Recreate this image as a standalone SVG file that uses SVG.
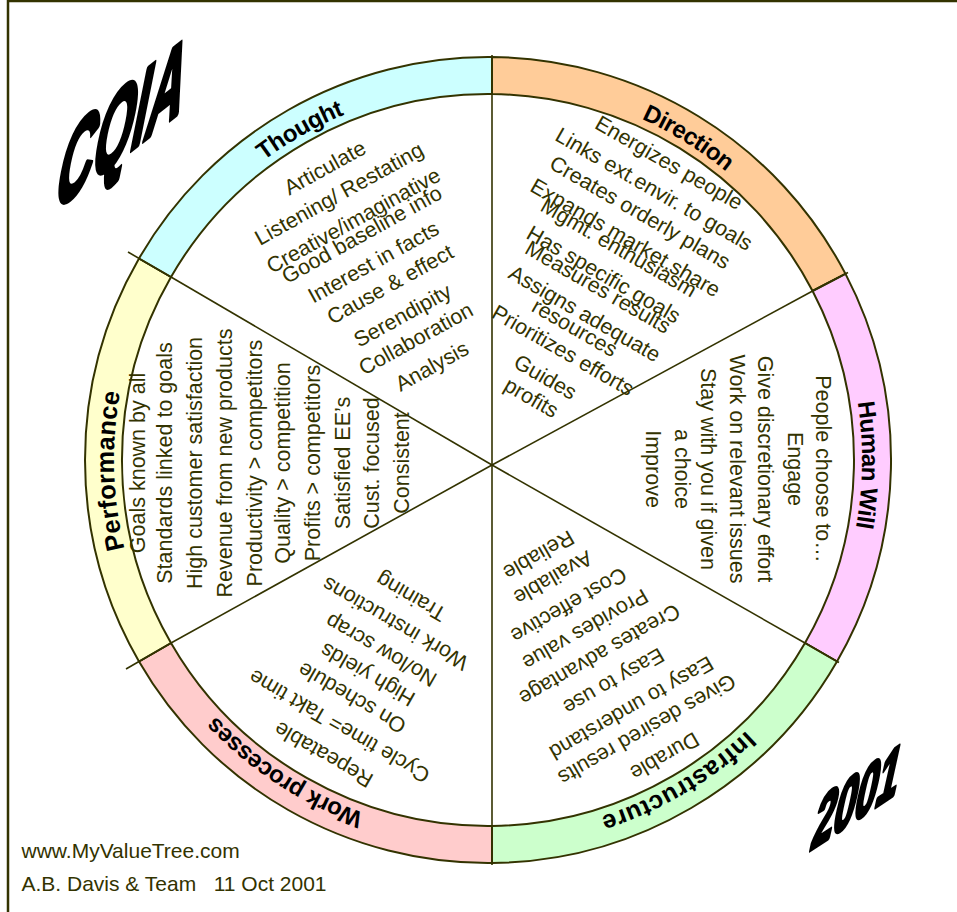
<svg xmlns="http://www.w3.org/2000/svg" width="957" height="912" viewBox="0 0 957 912">
<style>
.seg{stroke:#333300;stroke-width:2;stroke-linejoin:round}
.ln{stroke:#333300;stroke-width:1.6;fill:none}
.t{font-family:"Liberation Sans",Arial,sans-serif;font-size:21.5px;fill:#333300;text-anchor:middle}
.lbl{font-family:"Liberation Sans",Arial,sans-serif;font-size:24px;font-weight:bold;fill:#000;letter-spacing:-0.5px}
.big{font-family:"Liberation Sans",Arial,sans-serif;font-weight:bold;fill:#000;stroke:#000;stroke-linejoin:round}
.foot{font-family:"Liberation Sans",Arial,sans-serif;font-size:21px;fill:#333300;white-space:pre}
</style>
<defs>
<path id="lc" d="M488,86 A374,374 0 1 1 488,834 A374,374 0 1 1 488,86"/>
</defs>
<rect x="8" y="1" width="1000" height="1000" fill="#fff" stroke="#333300" stroke-width="2.5"/>

<g id="direction">
<path class="seg" fill="#FFCC99" d="M492,57.02 A403,403 0 0 1 845.5,273.9 L812.6,291 A366,366 0 0 0 492,94.02 Z"/>
<text class="lbl"><textPath href="#lc" startOffset="208" text-anchor="middle">Direction</textPath></text>
<text class="t" transform="translate(665.4,169) rotate(30)">Energizes people</text>
<text class="t" transform="translate(650.4,195.4) rotate(30)">Links ext.envir. to goals</text>
<text class="t" transform="translate(636.4,218.7) rotate(30)">Creates orderly plans</text>
<text class="t" transform="translate(621.8,244) rotate(30)">Expands market.share</text>
<text class="t" transform="translate(615.1,254) rotate(30)">Mgmt. enthusiasm</text>
<text class="t" transform="translate(600.1,280.7) rotate(30)">Has specific goals</text>
<text class="t" transform="translate(594.4,293.4) rotate(30)">Measures results</text>
<text class="t" transform="translate(581.1,320) rotate(30)">Assigns adequate</text>
<text class="t" transform="translate(571.1,334) rotate(30)">resources</text>
<text class="t" transform="translate(559.4,356.7) rotate(30)">Prioritizes efforts</text>
<text class="t" transform="translate(541.8,383.4) rotate(30)">Guides</text>
<text class="t" transform="translate(527.8,404) rotate(30)">profits</text>
</g>

<g id="human-will">
<path class="seg" fill="#FFCCFF" d="M845.5,273.9 A403,403 0 0 1 837,661.5 L805,643 A366,366 0 0 0 812.6,291 Z"/>
<text class="lbl"><textPath href="#lc" startOffset="592" text-anchor="middle">Human Will</textPath></text>
<g transform="translate(0,469) rotate(90)">
<text class="t" x="0" y="-816.3">People choose to…</text>
<text class="t" x="0" y="-788">Engage</text>
<text class="t" x="0" y="-758">Give discretionary effort</text>
<text class="t" x="0" y="-729.6">Work on relevant issues</text>
<text class="t" x="0" y="-701.3">Stay with you if given</text>
<text class="t" x="0" y="-674.6">a choice</text>
<text class="t" x="0" y="-646.3">Improve</text>
</g>
</g>

<g id="infrastructure">
<path class="seg" fill="#CCFFCC" d="M837,661.5 A403,403 0 0 1 492,862.98 L492,825.98 A366,366 0 0 0 805,643 Z"/>
<text class="lbl" style="font-size:25px;letter-spacing:0.6px"><textPath href="#lc" startOffset="975" text-anchor="middle">Infrastructure</textPath></text>
<text class="t" transform="translate(535.1,549) rotate(150)">Reliable</text>
<text class="t" transform="translate(549.4,571.6) rotate(150)">Available</text>
<text class="t" transform="translate(565.1,599) rotate(150)">Cost effective</text>
<text class="t" transform="translate(581.8,623.3) rotate(150)">Provides value</text>
<text class="t" transform="translate(596.1,648.3) rotate(150)">Creates advantage</text>
<text class="t" transform="translate(610.1,675) rotate(150)">Easy to use</text>
<text class="t" transform="translate(627.8,701.6) rotate(150)">Easy to understand</text>
<text class="t" transform="translate(643.4,723.3) rotate(150)">Gives desired results</text>
<text class="t" transform="translate(661.1,750) rotate(150)">Durable</text>
</g>

<g id="work-processes">
<path class="seg" fill="#FFCCCC" d="M492,862.98 A403,403 0 0 1 139,661.5 L171,643 A366,366 0 0 0 492,825.98 Z"/>
<text class="lbl"><textPath href="#lc" startOffset="1390" text-anchor="middle">Work processes</textPath></text>
<text class="t" transform="translate(414.6,590.6) rotate(-150)">Training</text>
<text class="t" transform="translate(398.9,617.3) rotate(-150)">Work instructions</text>
<text class="t" transform="translate(384.6,644) rotate(-150)">No/low scrap</text>
<text class="t" transform="translate(371.2,668.3) rotate(-150)">High yields</text>
<text class="t" transform="translate(355.6,691.6) rotate(-150)">On schedule</text>
<text class="t" transform="translate(342.9,720) rotate(-150)">Cycle time= Takt time</text>
<text class="t" transform="translate(327.2,748.3) rotate(-150)">Repeatable</text>
</g>

<g id="performance">
<path class="seg" fill="#FFFFCC" d="M139,661.5 A403,403 0 0 1 139,258.5 L171,277 A366,366 0 0 0 171,643 Z"/>
<text class="lbl" style="font-size:25.5px;letter-spacing:0.2px"><textPath href="#lc" startOffset="1751" text-anchor="middle">Performance</textPath></text>
<g transform="translate(0,463) rotate(-90)">
<text class="t" x="0" y="144.7">Goals known by all</text>
<text class="t" x="0" y="172">Standards linked to goals</text>
<text class="t" x="0" y="202">High customer satisfaction</text>
<text class="t" x="0" y="232">Revenue from new products</text>
<text class="t" x="0" y="262">Productivity &gt; competitors</text>
<text class="t" x="0" y="290.4">Quality &gt; competition</text>
<text class="t" x="0" y="320.4">Profits &gt; competitors</text>
<text class="t" x="0" y="350.4">Satisfied EE’s</text>
<text class="t" x="0" y="378.7">Cust. focused</text>
<text class="t" x="0" y="408.7">Consistent</text>
</g>
</g>

<g id="thought">
<path class="seg" fill="#CCFFFF" d="M139,258.5 A403,403 0 0 1 492,57.02 L492,94.02 A366,366 0 0 0 171,277 Z"/>
<text class="lbl"><textPath href="#lc" startOffset="2155" text-anchor="middle">Thought</textPath></text>
<text class="t" transform="translate(328.4,174.1) rotate(-29)">Articulate</text>
<text class="t" transform="translate(342.7,200.1) rotate(-29)">Listening/ Restating</text>
<text class="t" transform="translate(357,226.8) rotate(-29)">Creative/imaginative</text>
<text class="t" transform="translate(365.4,240.8) rotate(-29)">Good baseline info</text>
<text class="t" transform="translate(377,268.5) rotate(-29)">Interest in facts</text>
<text class="t" transform="translate(393.7,290.8) rotate(-29)">Cause &amp; effect</text>
<text class="t" transform="translate(406,321.8) rotate(-29)">Serendipity</text>
<text class="t" transform="translate(419.4,345.1) rotate(-29)">Collaboration</text>
<text class="t" transform="translate(435.4,372.5) rotate(-29)">Analysis</text>
</g>

<g id="connectors">
<line class="ln" x1="492" y1="55" x2="492" y2="865"/>
<line class="ln" x1="492" y1="465" x2="812.6" y2="291"/>
<line class="ln" x1="492" y1="465" x2="805" y2="643"/>
<line class="ln" x1="492" y1="465" x2="171" y2="643"/>
<line class="ln" x1="492" y1="465" x2="171" y2="277"/>
<line class="ln" x1="812.6" y1="291" x2="848" y2="272.5"/>
<line class="ln" x1="805" y1="643" x2="839" y2="662.5"/>
<line class="ln" x1="171" y1="643" x2="126" y2="669"/>
<line class="ln" x1="171" y1="277" x2="128" y2="252"/>
</g>

<g id="title">
<text class="big" font-size="118" stroke-width="6" transform="matrix(0.43,-0.34,-0.2,1,52,213)">CQIA</text>
<text class="big" font-size="77" stroke-width="5" transform="matrix(0.5,-0.33,-0.22,1,809,851)">2001</text>
</g>

<g id="footer">
<text class="foot" x="21.5" y="858">www.MyValueTree.com</text>
<text class="foot" x="21.5" y="891">A.B. Davis &amp; Team   11 Oct 2001</text>
</g>
</svg>
